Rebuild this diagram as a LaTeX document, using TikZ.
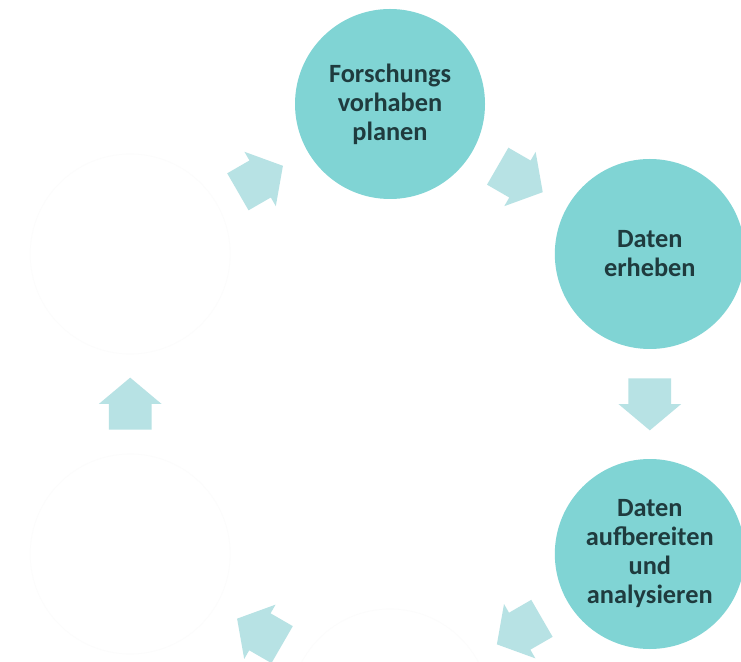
\documentclass[tikz,border=0pt]{standalone}
\usepackage{fontspec}
\setmainfont{Carlito}
\usetikzlibrary{calc, shapes.arrows}
\definecolor{stagefill}{HTML}{80D4D4}
\definecolor{arrowfill}{HTML}{B7E2E4}
\definecolor{stagetext}{HTML}{1F3B3E}

\tikzset{
  stage/.style={circle, fill=stagefill, minimum size=3.8cm, inner sep=0pt,
    align=center, text=stagetext, font=\fontsize{15}{16.5}\selectfont\bfseries},
  blank/.style={circle, fill=white, draw=black!1, minimum size=4cm},
  cyclearrow/.style={single arrow, fill=arrowfill, minimum height=1.04cm,
    inner xsep=0pt, inner ysep=0.42cm, single arrow head extend=0.2cm,
    single arrow tip angle=100, anchor=tail}
}

\begin{document}
\begin{tikzpicture}
  \useasboundingbox[fill=white] (0,0) rectangle (14.82,13.22);
  \coordinate (mid) at (7.8,5.14);

  % stages of the cycle
  \node[stage] (plan) at ($(mid)+(90:6)$) {Forschungs\\vorhaben\\planen};
  \node[stage] (collect) at ($(mid)+(30:6)$) {Daten\\erheben};
  \node[stage] (analyse) at ($(mid)+(-30:6)$) {Daten\\aufbereiten\\und\\analysieren};
  \node[blank] (bottom) at ($(mid)+(-90:6.1)$) {};
  \node[blank] (lowleft) at ($(mid)+(-150:6)$) {};
  \node[blank] (upleft) at ($(mid)+(150:6)$) {};

  % arrows between stages, tail half a length before the midpoint
  \node[cyclearrow, rotate=-30] (a1) at ($($(plan)!0.5!(collect)$)!0.52cm!(plan)$) {};
  \node[cyclearrow, rotate=-90] (a2) at ($($(collect)!0.5!(analyse)$)!0.52cm!(collect)$) {};
  \node[cyclearrow, rotate=-150] (a3) at ($($(analyse)!0.5!(bottom)$)!0.52cm!(analyse)$) {};
  \node[cyclearrow, rotate=150] (a4) at ($($(bottom)!0.5!(lowleft)$)!0.52cm!(bottom)$) {};
  \node[cyclearrow, rotate=90] (a5) at ($($(lowleft)!0.5!(upleft)$)!0.52cm!(lowleft)$) {};
  \node[cyclearrow, rotate=30] (a6) at ($($(upleft)!0.5!(plan)$)!0.52cm!(upleft)$) {};
\end{tikzpicture}
\end{document}
